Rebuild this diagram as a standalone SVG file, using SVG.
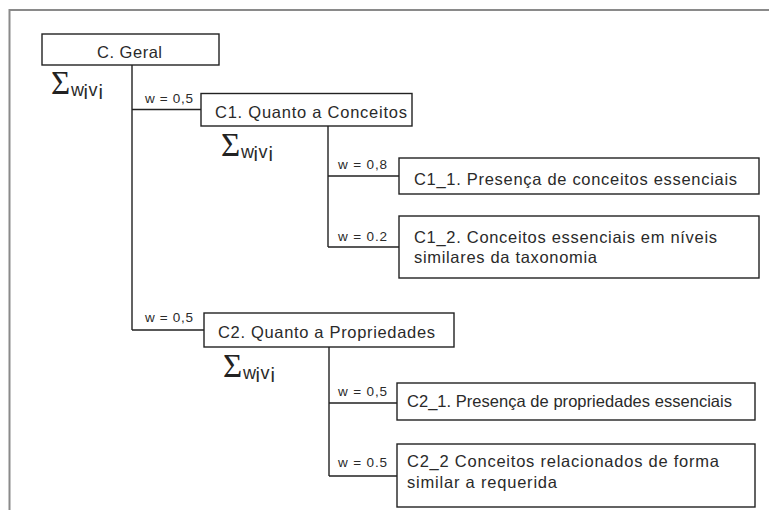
<svg xmlns="http://www.w3.org/2000/svg" width="769" height="510" viewBox="0 0 769 510">
<style>
.box{fill:#fff;stroke:#222;stroke-width:1.4}
.ln{fill:none;stroke:#222;stroke-width:1.4}
.t{font-family:"Liberation Sans",Arial,sans-serif;font-size:16.5px;fill:#2a2a2a}
.w{font-family:"Liberation Sans",Arial,sans-serif;font-size:13.5px;fill:#2a2a2a}
.sg{font-family:"Liberation Serif","Times New Roman",serif;font-size:33px;fill:#222}
.sv{font-family:"Liberation Sans",Arial,sans-serif;font-size:18px;fill:#2a2a2a}
.si{font-family:"Liberation Sans",Arial,sans-serif;font-size:20px;fill:#2a2a2a}
</style>
<rect width="769" height="510" fill="#fff"/>
<path d="M9.5 510V10H769" fill="none" stroke="#8a8a8a" stroke-width="2"/>
<g id="connectors">
<path class="ln" d="M132 65V330M132 109.5H201M132 330H204"/>
<path class="ln" d="M328 126V247M328 176H399M328 247H399"/>
<path class="ln" d="M329 347V476M329 403H397M329 476H397"/>
<text class="w" x="145" y="103" textLength="48" lengthAdjust="spacing">w = 0,5</text>
<text class="w" x="338" y="169" textLength="49" lengthAdjust="spacing">w = 0,8</text>
<text class="w" x="338" y="241" textLength="49" lengthAdjust="spacing">w = 0.2</text>
<text class="w" x="145" y="322" textLength="48" lengthAdjust="spacing">w = 0,5</text>
<text class="w" x="338" y="396" textLength="49" lengthAdjust="spacing">w = 0,5</text>
<text class="w" x="338" y="467" textLength="49" lengthAdjust="spacing">w = 0.5</text>
</g>
<g id="geral">
<rect class="box" x="42" y="34" width="177" height="31"/>
<text class="t" x="97" y="58" textLength="65" lengthAdjust="spacing">C. Geral</text>
<text class="sg" x="51" y="94">Σ</text><text class="sv" x="71" y="96">w</text><text class="si" x="83.5" y="99">i</text><text class="sv" x="88.5" y="96">v</text><text class="si" x="98.5" y="99">i</text>
</g>
<g id="c1">
<rect class="box" x="201" y="93.5" width="211" height="32.5"/>
<text class="t" x="215" y="118" textLength="192" lengthAdjust="spacing">C1. Quanto a Conceitos</text>
<text class="sg" x="221" y="156">Σ</text><text class="sv" x="241" y="158">w</text><text class="si" x="253.5" y="161">i</text><text class="sv" x="258.5" y="158">v</text><text class="si" x="268.5" y="161">i</text>
</g>
<g id="c1_1">
<rect class="box" x="399" y="158" width="360" height="36"/>
<text class="t" x="414" y="185" textLength="323" lengthAdjust="spacing">C1_1. Presença de conceitos essenciais</text>
</g>
<g id="c1_2">
<rect class="box" x="399" y="216" width="360" height="62"/>
<text class="t" x="414" y="243" textLength="303" lengthAdjust="spacing">C1_2. Conceitos essenciais em níveis</text>
<text class="t" x="414" y="263" textLength="183" lengthAdjust="spacing">similares da taxonomia</text>
</g>
<g id="c2">
<rect class="box" x="204" y="313" width="250" height="34"/>
<text class="t" x="218" y="338" textLength="217" lengthAdjust="spacing">C2. Quanto a Propriedades</text>
<text class="sg" x="223" y="377">Σ</text><text class="sv" x="243" y="379">w</text><text class="si" x="255.5" y="382">i</text><text class="sv" x="260.5" y="379">v</text><text class="si" x="270.5" y="382">i</text>
</g>
<g id="c2_1">
<rect class="box" x="397" y="383" width="358" height="37"/>
<text class="t" x="407" y="407" textLength="325" lengthAdjust="spacing">C2_1. Presença de propriedades essenciais</text>
</g>
<g id="c2_2">
<rect class="box" x="397" y="444" width="358" height="63"/>
<text class="t" x="407" y="467" textLength="312" lengthAdjust="spacing">C2_2 Conceitos relacionados de forma</text>
<text class="t" x="407" y="488" textLength="150" lengthAdjust="spacing">similar a requerida</text>
</g>
</svg>
